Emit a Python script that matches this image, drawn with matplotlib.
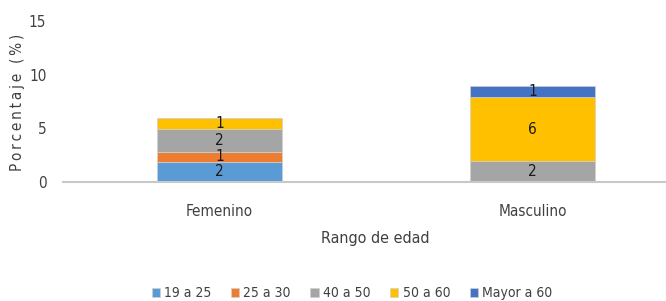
import numpy as np
import matplotlib.pyplot as plt

plt.rcParams['font.family'] = ['DejaVu Sans']
plt.rcParams['font.stretch'] = 'condensed'

# Datos
categorias = ["Femenino", "Masculino"]
rangos = ["19 a 25", "25 a 30", "40 a 50", "50 a 60", "Mayor a 60"]
valores = {
    "19 a 25": [1.9, 0.0],
    "25 a 30": [0.9, 0.0],
    "40 a 50": [2.1, 1.95],
    "50 a 60": [1.1, 5.95],
    "Mayor a 60": [0.0, 1.0],
}
colores = ["#5B9BD5", "#ED7D31", "#A5A5A5", "#FFC000", "#4472C4"]

fig = plt.figure(figsize=(6.66, 3.01), dpi=100)
ax = fig.add_axes([63 / 666, 0.395, 626 / 666, 0.536])

x = np.arange(len(categorias))
base = np.zeros(len(categorias))
for rango, color in zip(rangos, colores):
    vals = np.array(valores[rango])
    bars = ax.bar(x, vals, 0.4, bottom=base, color=color, label=rango,
                  edgecolor="#D0D0D0", linewidth=0.5)
    for b, v, y0 in zip(bars, vals, base):
        if v > 0:
            ax.text(b.get_x() + b.get_width() / 2, y0 + v / 2, f"{v:.0f}",
                    ha="center", va="center", fontsize=11, color="#1a1a1a")
    base += vals

ax.set_xlim(-0.5, 1.5)
ax.set_ylim(0, 15)
ax.set_yticks([0, 5, 10, 15])
ax.set_xticks(x)
ax.set_xticklabels(categorias)
ax.tick_params(axis="both", length=0, labelsize=11, colors="#404040")
ax.tick_params(axis="x", pad=16)
ax.tick_params(axis="y", pad=12)
for s in ["top", "right", "left"]:
    ax.spines[s].set_visible(False)
ax.spines["bottom"].set_color("#C8C8C8")
ax.spines["bottom"].set_linewidth(1.5)

ylab = "\u2009".join("Porcentaje (%)")
fig.text(18 / 666, 1 - 102 / 301, ylab, rotation=90,
         ha="center", va="center", fontsize=11, color="#404040")
fig.text(375 / 666, 1 - 239 / 301, "Rango de edad", ha="center", va="center",
         fontsize=11.5, color="#404040")

fig.legend(loc="center", bbox_to_anchor=(352 / 666, 1 - 293 / 301), ncol=5,
           frameon=False, fontsize=10, handlelength=0.6, handleheight=0.6,
           handletextpad=0.3, columnspacing=1.4, labelcolor="#404040")

fig.savefig("out.png", dpi=100)
